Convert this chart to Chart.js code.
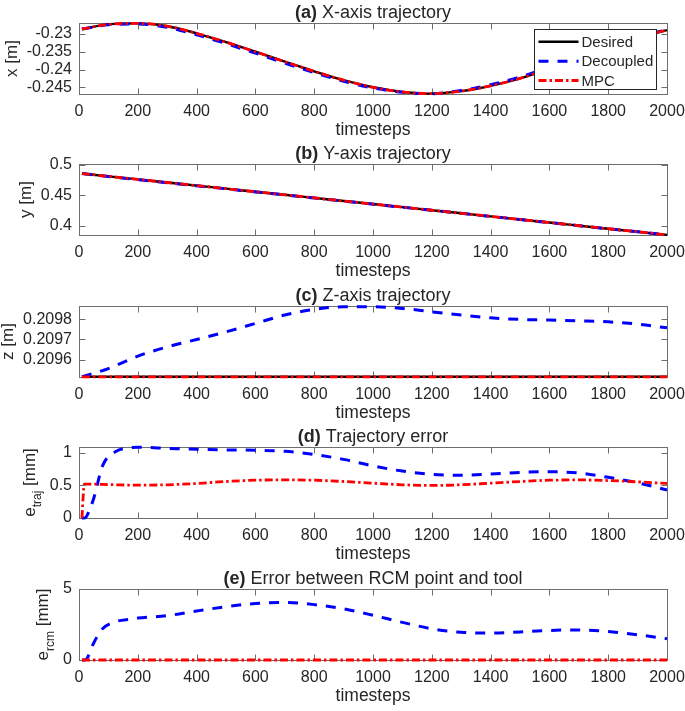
<!DOCTYPE html>
<html>
<head>
<meta charset="utf-8">
<script src="https://cdn.jsdelivr.net/npm/chart.js@4.4.1/dist/chart.umd.min.js"></script>
<style>
  html, body { margin: 0; padding: 0; background: #fff; }
  #wrap { position: relative; width: 685px; height: 711px; }
  #wrap canvas { position: absolute; left: 0; }
</style>
</head>
<body>
<div id="wrap">
  <canvas id="pa" width="685" height="141" style="top:0px"></canvas>
  <canvas id="pb" width="685" height="141" style="top:141px"></canvas>
  <canvas id="pc" width="685" height="141" style="top:283px"></canvas>
  <canvas id="pd" width="685" height="141" style="top:424px"></canvas>
  <canvas id="pe" width="685" height="141" style="top:566px"></canvas>
</div>
<script>
// timesteps shared by the trajectory panels
const steps = [10, 100, 200, 300, 400, 500, 600, 700, 800, 900, 1000,
  1100, 1200, 1300, 1400, 1500, 1600, 1700, 1800, 1900, 2000];
// finer sampling at the start for the error panels
const errSteps = [10, 18, 25, 50, 80, 125, 175, 200, 300, 400, 500, 600, 700, 800,
  900, 1000, 1100, 1200, 1300, 1400, 1500, 1600, 1700, 1800, 1900, 2000];

// (a) x [m]
const xDesired = [-0.2286, -0.2273, -0.2270, -0.2278, -0.2298, -0.2323, -0.2350, -0.2378, -0.2405, -0.2430,
  -0.2450, -0.2463, -0.2468, -0.2461, -0.2446, -0.2425, -0.2397, -0.2367, -0.2337, -0.2310, -0.2289];
const xDecoupled = [-0.2286, -0.2274, -0.2272, -0.2281, -0.2302, -0.2327, -0.2354, -0.2382, -0.2409, -0.2433,
  -0.2452, -0.2464, -0.2468, -0.2459, -0.2443, -0.2421, -0.2393, -0.2363, -0.2334, -0.2308, -0.2288];
const xMpc = [-0.2286, -0.2273, -0.2270, -0.2278, -0.2298, -0.2323, -0.2350, -0.2378, -0.2405, -0.2430,
  -0.2450, -0.2463, -0.2468, -0.2461, -0.2446, -0.2425, -0.2397, -0.2367, -0.2337, -0.2310, -0.2289];

// (b) y [m]
const yDesired = [0.4860, 0.4814, 0.4764, 0.4713, 0.4662, 0.4612, 0.4561, 0.4511, 0.4460, 0.4409,
  0.4359, 0.4308, 0.4257, 0.4207, 0.4156, 0.4105, 0.4055, 0.4004, 0.3953, 0.3903, 0.3852];
const yDecoupled = [0.4860, 0.4811, 0.4761, 0.4710, 0.4659, 0.4609, 0.4558, 0.4508, 0.4457, 0.4407,
  0.4357, 0.4306, 0.4256, 0.4206, 0.4155, 0.4104, 0.4054, 0.4003, 0.3952, 0.3902, 0.3852];
const yMpc = [0.4860, 0.4814, 0.4764, 0.4713, 0.4662, 0.4612, 0.4561, 0.4511, 0.4460, 0.4409,
  0.4359, 0.4308, 0.4257, 0.4207, 0.4156, 0.4105, 0.4055, 0.4004, 0.3953, 0.3903, 0.3852];

// (c) z [m]
const zDesired = [0.209514, 0.209514, 0.209514, 0.209514, 0.209514, 0.209514, 0.209514, 0.209514, 0.209514, 0.209514,
  0.209514, 0.209514, 0.209514, 0.209514, 0.209514, 0.209514, 0.209514, 0.209514, 0.209514, 0.209514, 0.209514];
const zDecoupled = [0.209514, 0.209555, 0.209617, 0.209663, 0.209700, 0.209738, 0.209780, 0.209822, 0.209850, 0.209863,
  0.209863, 0.209855, 0.209838, 0.209822, 0.209808, 0.209800, 0.209797, 0.209793, 0.209788, 0.209777, 0.209758];
const zMpc = [0.209514, 0.209514, 0.209514, 0.209514, 0.209514, 0.209514, 0.209514, 0.209514, 0.209514, 0.209514,
  0.209514, 0.209514, 0.209514, 0.209514, 0.209514, 0.209514, 0.209514, 0.209514, 0.209514, 0.209514, 0.209514];

// (d) trajectory error [mm]
const eTrajDecoupled = [0, 0, 0.02, 0.30, 0.80, 1.02, 1.08, 1.085, 1.07, 1.055, 1.045, 1.04, 1.025, 0.975,
  0.90, 0.80, 0.72, 0.67, 0.655, 0.675, 0.70, 0.71, 0.69, 0.625, 0.54, 0.43];
const eTrajMpc = [0, 0.52, 0.52, 0.52, 0.515, 0.51, 0.505, 0.505, 0.51, 0.53, 0.56, 0.58, 0.585, 0.58,
  0.56, 0.535, 0.51, 0.50, 0.51, 0.535, 0.56, 0.58, 0.585, 0.575, 0.555, 0.53];

// (e) RCM error [mm]
const eRcmDecoupled = [0, 0, 0.05, 1.2, 2.2, 2.7, 2.88, 2.95, 3.12, 3.45, 3.75, 3.98, 4.05, 3.9,
  3.6, 3.15, 2.65, 2.2, 1.95, 1.9, 1.98, 2.08, 2.12, 2.0, 1.78, 1.5];
const eRcmMpc = [0, 0, 0, 0, 0, 0, 0, 0, 0, 0, 0, 0, 0, 0,
  0, 0, 0, 0, 0, 0, 0, 0, 0, 0, 0, 0];

// y tick values per panel
const xTicksA = [-0.245, -0.24, -0.235, -0.23];
const yTicksB = [0.4, 0.45, 0.5];
const zTicksC = [0.2096, 0.2097, 0.2098];
const eTicksD = [0, 0.5, 1];
const eTicksE = [0, 5];

const FONT = "'Liberation Sans', Arial, Helvetica, sans-serif";
const INK = '#262626';

const styles = {
  Desired:   { color: '#000000', width: 2.4, dash: [], order: 3 },
  Decoupled: { color: '#0000ff', width: 3, dash: [10, 9], order: 2 },
  MPC:       { color: '#ff0000', width: 2.8, dash: [8, 3, 2.5, 3], order: 1 }
};

function series(name, xs, ys) {
  const s = styles[name];
  return {
    label: name,
    data: xs.map((x, i) => ({ x: x, y: ys[i] })),
    borderColor: s.color,
    borderWidth: s.width,
    borderDash: s.dash,
    order: s.order,
    pointRadius: 0,
    fill: false,
    cubicInterpolationMode: 'monotone',
    clip: 4
  };
}

function makePanel(id, spec) {
  const frame = {
    id: 'frame',
    beforeDatasetsDraw(chart) {
      const { ctx, chartArea: a, scales } = chart;
      const L = Math.round(a.left) + 0.5, R = Math.round(a.right) + 0.5;
      const T = Math.round(a.top) + 0.5, B = Math.round(a.bottom) + 0.5;
      ctx.save();
      ctx.strokeStyle = '#6e6e6e';
      ctx.lineWidth = 1;
      ctx.strokeRect(L, T, R - L, B - T);
      const tl = 6;
      ctx.beginPath();
      scales.x.ticks.forEach(t => {
        const px = Math.round(scales.x.getPixelForValue(t.value)) + 0.5;
        ctx.moveTo(px, B); ctx.lineTo(px, B - tl);
        ctx.moveTo(px, T); ctx.lineTo(px, T + tl);
      });
      scales.y.ticks.forEach(t => {
        const py = Math.round(scales.y.getPixelForValue(t.value)) + 0.5;
        ctx.moveTo(L, py); ctx.lineTo(L + tl, py);
        ctx.moveTo(R, py); ctx.lineTo(R - tl, py);
      });
      ctx.stroke();
      ctx.restore();
    }
  };

  const texts = {
    id: 'texts',
    afterDraw(chart) {
      const { ctx, chartArea: a } = chart;
      ctx.save();
      // panel title: bold tag + normal text
      const boldFont = 'bold 18px ' + FONT, normFont = '18px ' + FONT;
      ctx.font = boldFont;
      const w1 = ctx.measureText(spec.tag).width;
      ctx.font = normFont;
      const w2 = ctx.measureText(spec.title).width;
      const tx = (a.left + a.right) / 2 - (w1 + w2) / 2;
      const ty = a.top - 5.5;
      ctx.fillStyle = INK;
      ctx.textBaseline = 'alphabetic';
      ctx.textAlign = 'left';
      ctx.font = boldFont;
      ctx.fillText(spec.tag, tx, ty);
      ctx.font = normFont;
      ctx.fillText(spec.title, tx + w1, ty);

      // y axis title, rotated, with optional subscript
      ctx.font = '16px ' + FONT;
      const maxW = Math.max(...spec.yTicks.map(v => ctx.measureText(String(v)).width));
      const labelLeft = a.left - 7 - maxW;
      const hasSub = spec.yTitle.some(p => p.sub);
      const bx = labelLeft - 6 - (hasSub ? 9 : 4);
      const cy = (a.top + a.bottom) / 2;
      let total = 0;
      spec.yTitle.forEach(p => {
        ctx.font = (p.sub ? '12px ' : '17px ') + FONT;
        p.w = ctx.measureText(p.t).width;
        total += p.w;
      });
      ctx.translate(bx, cy);
      ctx.rotate(-Math.PI / 2);
      let px = -total / 2;
      spec.yTitle.forEach(p => {
        ctx.font = (p.sub ? '12px ' : '17px ') + FONT;
        ctx.fillText(p.t, px, p.sub ? 6 : 0);
        px += p.w;
      });
      ctx.restore();
    }
  };

  const legendBox = {
    id: 'legendBox',
    afterDatasetsDraw(chart) {
      if (!spec.legend) return;
      const { ctx, chartArea: a } = chart;
      const w = 122, h = 60;
      const lx = Math.round(a.right - 11 - w) + 0.5, ly = Math.round(a.top + 6) + 0.5;
      ctx.save();
      ctx.fillStyle = '#ffffff';
      ctx.fillRect(lx, ly, w, h);
      ctx.strokeStyle = INK;
      ctx.lineWidth = 1;
      ctx.strokeRect(lx, ly, w, h);
      const rows = [12.3, 31.7, 51];
      ['Desired', 'Decoupled', 'MPC'].forEach((name, i) => {
        const s = styles[name];
        const yy = ly + rows[i];
        ctx.strokeStyle = s.color;
        ctx.lineWidth = s.width;
        ctx.setLineDash(s.dash);
        ctx.beginPath();
        ctx.moveTo(lx + 4, yy);
        ctx.lineTo(lx + 44, yy);
        ctx.stroke();
        ctx.setLineDash([]);
        ctx.fillStyle = INK;
        ctx.font = '15px ' + FONT;
        ctx.textBaseline = 'middle';
        ctx.textAlign = 'left';
        ctx.fillText(name, lx + 47, yy + 1);
      });
      ctx.restore();
    }
  };

  return new Chart(document.getElementById(id), {
    type: 'line',
    data: { datasets: spec.datasets },
    options: {
      responsive: false,
      animation: false,
      devicePixelRatio: 1,
      layout: { padding: { top: 23, right: 18, left: 0, bottom: 0 } },
      plugins: { legend: { display: false }, tooltip: { enabled: false } },
      scales: {
        x: {
          type: 'linear',
          min: 0, max: 2000,
          grid: { display: false, drawTicks: false, tickLength: 0 },
          border: { display: false },
          ticks: {
            stepSize: 200, autoSkip: false, maxRotation: 0, padding: 8,
            color: INK, font: { family: FONT, size: 16 },
            callback: v => String(v)
          },
          title: {
            display: true, text: 'timesteps', color: INK,
            font: { family: FONT, size: 17.5 }, padding: { top: 0, bottom: 0 }
          },
          afterFit: s => { s.height = 47; s.paddingLeft = 0; s.paddingRight = 0; }
        },
        y: {
          type: 'linear',
          min: spec.yMin, max: spec.yMax,
          grid: { display: false, drawTicks: false, tickLength: 0 },
          border: { display: false },
          ticks: {
            padding: 7, color: INK, font: { family: FONT, size: 16 },
            callback: v => String(v)
          },
          afterBuildTicks: s => { s.ticks = spec.yTicks.map(v => ({ value: v })); },
          afterFit: s => { s.width = 79; s.paddingTop = 0; s.paddingBottom = 0; }
        }
      }
    },
    plugins: [frame, legendBox, texts]
  });
}

makePanel('pa', {
  tag: '(a)', title: ' X-axis trajectory', legend: true,
  yMin: -0.2469, yMax: -0.2269, yTicks: xTicksA,
  yTitle: [{ t: 'x [m]' }],
  datasets: [series('Desired', steps, xDesired), series('Decoupled', steps, xDecoupled), series('MPC', steps, xMpc)]
});
makePanel('pb', {
  tag: '(b)', title: ' Y-axis trajectory',
  yMin: 0.385, yMax: 0.5017, yTicks: yTicksB,
  yTitle: [{ t: 'y [m]' }],
  datasets: [series('Desired', steps, yDesired), series('Decoupled', steps, yDecoupled), series('MPC', steps, yMpc)]
});
makePanel('pc', {
  tag: '(c)', title: ' Z-axis trajectory',
  yMin: 0.209513, yMax: 0.209867, yTicks: zTicksC,
  yTitle: [{ t: 'z [m]' }],
  datasets: [series('Desired', steps, zDesired), series('Decoupled', steps, zDecoupled), series('MPC', steps, zMpc)]
});
makePanel('pd', {
  tag: '(d)', title: ' Trajectory error',
  yMin: 0, yMax: 1.09, yTicks: eTicksD,
  yTitle: [{ t: 'e' }, { t: 'traj', sub: true }, { t: ' [mm]' }],
  datasets: [series('Decoupled', errSteps, eTrajDecoupled), series('MPC', errSteps, eTrajMpc)]
});
makePanel('pe', {
  tag: '(e)', title: ' Error between RCM point and tool',
  yMin: 0, yMax: 5, yTicks: eTicksE,
  yTitle: [{ t: 'e' }, { t: 'rcm', sub: true }, { t: ' [mm]' }],
  datasets: [series('Decoupled', errSteps, eRcmDecoupled), series('MPC', errSteps, eRcmMpc)]
});
</script>
</body>
</html>
